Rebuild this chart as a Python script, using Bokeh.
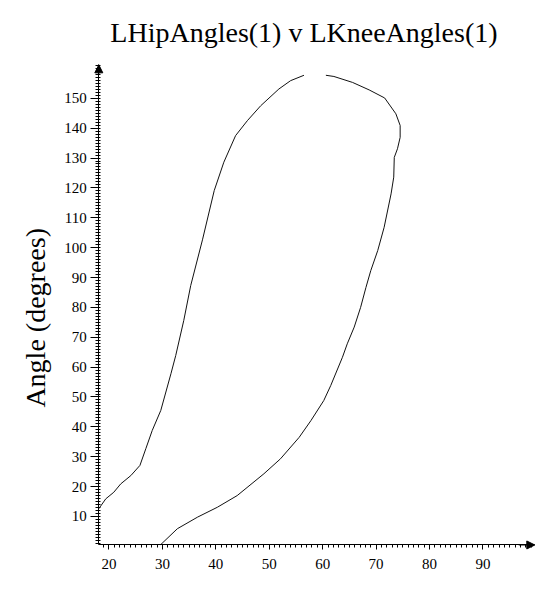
import math
from bokeh.plotting import figure
from bokeh.models import FixedTicker, Label, Arrow, NormalHead, Range1d
from bokeh.embed import file_html
from bokeh.resources import INLINE

nan = float("nan")

title_text = "LHipAngles(1) v LKneeAngles(1)"
ylabel_text = "Angle (degrees)"

# left (rising) branch of the loop
rise_x = [18.1, 19.4, 20.9, 22.2, 24.1, 25.8, 26.9, 28.1, 29.7, 31.6, 32.5, 34.0,
          35.3, 37.5, 39.7, 41.5, 43.7, 45.9, 48.4, 51.8, 54.0, 56.5]
rise_y = [12.6, 15.9, 18.1, 20.9, 23.7, 27.1, 32.7, 38.8, 45.5, 57.8, 63.9, 75.6,
          87.3, 102.6, 119.1, 128.6, 137.5, 142.5, 147.5, 153.1, 155.9, 157.7]

# right (falling) branch of the loop
fall_x = [60.6, 62.1, 65.6, 68.7, 71.6, 73.7, 74.5, 74.5, 74.0, 73.4, 73.3, 72.8,
          71.5, 70.3, 69.0, 68.1, 67.1, 65.9, 64.6, 63.7, 61.5, 60.2, 57.8, 55.6,
          52.1, 49.0, 44.0, 40.3, 36.6, 32.8, 29.7]
fall_y = [157.7, 157.3, 155.3, 152.8, 150.1, 144.8, 140.9, 136.9, 133.1, 130.2, 123.6, 118.0,
          106.8, 99.0, 92.3, 86.7, 80.0, 73.4, 67.8, 63.3, 53.8, 48.8, 42.1, 36.5,
          29.3, 24.3, 17.0, 13.1, 9.8, 5.9, 0.6]

x_ticks = [20, 30, 40, 50, 60, 70, 80, 90]
y_ticks = [10, 20, 30, 40, 50, 60, 70, 80, 90, 100, 110, 120, 130, 140, 150]

# axis extents (data units) and the whole-canvas view around them
AX0, AX1 = 18.1, 99.7
AY0, AY1 = 0.46, 161.2
VX0, VX1 = -0.30, 100.58
VY0, VY1 = -14.78, 182.73

p = figure(width=539, height=590, output_backend="svg", toolbar_location=None,
           x_range=Range1d(VX0, VX1), y_range=Range1d(VY0, VY1),
           min_border=0, min_border_left=0, min_border_right=0,
           min_border_top=0, min_border_bottom=0, title=None)
p.outline_line_color = None
p.xgrid.grid_line_color = None
p.ygrid.grid_line_color = None
p.background_fill_color = "white"
p.border_fill_color = "white"

p.line(rise_x + [nan] + fall_x, rise_y + [nan] + fall_y,
       line_color="#111111", line_width=1)

font = "Liberation Serif"
for ax in (p.xaxis[0], p.yaxis[0]):
    ax.axis_line_color = "black"
    ax.axis_line_width = 1
    ax.major_tick_line_color = "black"
    ax.minor_tick_line_color = "black"
    ax.major_label_text_font = font
    ax.major_label_text_font_size = "15px"
    ax.major_label_text_color = "black"

p.xaxis.fixed_location = AY0
p.yaxis.fixed_location = AX0
p.xaxis.bounds = (AX0, AX1)
p.yaxis.bounds = (AY0, AY1)

p.xaxis.ticker = FixedTicker(ticks=x_ticks, minor_ticks=list(range(19, 100)))
p.yaxis.ticker = FixedTicker(ticks=y_ticks, minor_ticks=list(range(1, 162)))

p.xaxis.major_tick_out = 5
p.xaxis.major_tick_in = 0
p.xaxis.minor_tick_out = 3
p.xaxis.minor_tick_in = 0
p.xaxis.major_label_standoff = 9

p.yaxis.major_tick_out = 8
p.yaxis.major_tick_in = 0
p.yaxis.minor_tick_out = 3
p.yaxis.minor_tick_in = 2
p.yaxis.major_label_standoff = 4

# arrow heads at the axis ends
p.add_layout(Arrow(end=NormalHead(size=8, fill_color="black", line_color="black"),
                   x_start=AX0, y_start=AY1 - 3, x_end=AX0, y_end=AY1,
                   line_color="black", line_width=1))
p.add_layout(Arrow(end=NormalHead(size=8, fill_color="black", line_color="black"),
                   x_start=AX1 - 3, y_start=AY0, x_end=AX1, y_end=AY0,
                   line_color="black", line_width=1))

p.add_layout(Label(x=56.5, y=172.1, text=title_text, text_font=font,
                   text_font_size="28px", text_color="black",
                   text_align="center", text_baseline="alphabetic"))
p.add_layout(Label(x=6.25, y=76.5, text=ylabel_text, text_font=font,
                   text_font_size="28px", text_color="black", angle=math.pi / 2,
                   text_align="center", text_baseline="alphabetic"))

open("out.html", "w").write(file_html(p, INLINE))
